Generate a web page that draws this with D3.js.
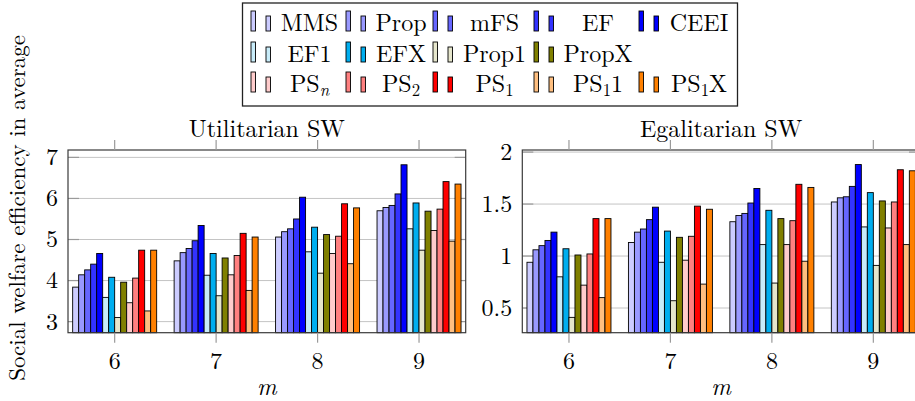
<!DOCTYPE html>
<html>
<head>
<meta charset="utf-8">
<script src="https://cdn.jsdelivr.net/npm/d3@7"></script>
<style>
  body { margin: 0; background: #fff; }
  svg { display: block; }
</style>
</head>
<body>
<svg id="chart"></svg>
<script>
// methods, in the order the bars are drawn inside each group
const methods = ['MMS', 'Prop', 'mFS', 'EF', 'CEEI', 'EF1', 'EFX', 'Prop1', 'PropX',
  'PS_{n}', 'PS_{2}', 'PS_{1}', 'PS_{1}1', 'PS_{1}X'];
const mValues = [6, 7, 8, 9];

// Utilitarian SW, one array per m
const utilM6 = [3.84, 4.14, 4.26, 4.40, 4.66, 3.59, 4.08, 3.10, 3.96, 3.46, 4.06, 4.74, 3.26, 4.74];
const utilM7 = [4.48, 4.68, 4.78, 4.97, 5.34, 4.13, 4.66, 3.63, 4.55, 4.14, 4.61, 5.15, 3.76, 5.06];
const utilM8 = [5.06, 5.19, 5.26, 5.50, 6.03, 4.70, 5.30, 4.18, 5.12, 4.66, 5.08, 5.87, 4.41, 5.77];
const utilM9 = [5.70, 5.78, 5.83, 6.11, 6.82, 5.26, 5.89, 4.74, 5.69, 5.22, 5.74, 6.41, 4.96, 6.35];

// Egalitarian SW, one array per m
const egalM6 = [0.94, 1.06, 1.10, 1.15, 1.23, 0.80, 1.07, 0.41, 1.01, 0.72, 1.02, 1.36, 0.60, 1.36];
const egalM7 = [1.13, 1.23, 1.26, 1.35, 1.47, 0.94, 1.24, 0.57, 1.18, 0.96, 1.19, 1.48, 0.73, 1.45];
const egalM8 = [1.33, 1.39, 1.41, 1.51, 1.65, 1.11, 1.44, 0.74, 1.36, 1.11, 1.34, 1.69, 0.95, 1.66];
const egalM9 = [1.52, 1.56, 1.57, 1.67, 1.88, 1.28, 1.61, 0.91, 1.53, 1.27, 1.52, 1.83, 1.11, 1.82];

const utilTicks = [3, 4, 5, 6, 7];
const egalTicks = [0.5, 1, 1.5, 2];

// bar fills (pgf style colours)
const colors = ['#ccccff', '#9999ff', '#6666ff', '#3333ff', '#0000ff',
  '#c8ecf9', '#00aeef', '#e6e6cc', '#808000',
  '#ffcccc', '#ff8080', '#ff0000', '#ffbf80', '#ff8000'];

const width = 915;
const height = 401;
const plotTop = 150, plotBottom = 332.7;
const barW = 6;
const fontSize = 24;
const font = "'Latin Modern Roman', 'Liberation Serif', serif";

const svg = d3.select('#chart').attr('width', width).attr('height', height);

// every text goes through here so the font is always set
const addText = (parent, str) =>
  parent.append('text').style('font-family', font).attr('font-size', fontSize).text(str);

const panels = [
  { title: 'Utilitarian SW', x0: 68, x1: 465.7, domain: [2.73, 7.18], ticks: utilTicks,
    rows: [utilM6, utilM7, utilM8, utilM9] },
  { title: 'Egalitarian SW', x0: 522.3, x1: 920, domain: [0.2625, 2.02], ticks: egalTicks,
    rows: [egalM6, egalM7, egalM8, egalM9] }
];

// write a label like PS_{1}X with a subscript
function setLabel(sel, label) {
  const parts = label.split(/_\{([^}]*)\}/);
  parts.forEach((p, i) => {
    if (p === '') return;
    if (i % 2 === 1) {
      sel.append('tspan').text(p)
        .attr('font-size', fontSize * 0.7)
        .attr('font-style', p === 'n' ? 'italic' : null)
        .attr('dy', 4);
    } else {
      sel.append('tspan').text(p).attr('dy', i > 0 ? -4 : 0);
    }
  });
}

panels.forEach((p) => {
  const x = d3.scaleLinear().domain([5.54, 9.46]).range([p.x0, p.x1]);
  const y = d3.scaleLinear().domain(p.domain).range([plotBottom, plotTop]);
  const g = svg.append('g');

  //Horizontal grid
  g.selectAll(null).data(p.ticks).enter().append('line')
    .attr('x1', p.x0).attr('x2', p.x1)
    .attr('y1', (d) => y(d)).attr('y2', (d) => y(d))
    .attr('stroke', '#c4c4c4').attr('stroke-width', 1);

  // inside y ticks, both sides
  [[p.x0, p.x0 + 11], [p.x1 - 11, p.x1]].forEach(([a, b]) => {
    g.selectAll(null).data(p.ticks).enter().append('line')
      .attr('x1', a).attr('x2', b)
      .attr('y1', (d) => y(d)).attr('y2', (d) => y(d))
      .attr('stroke', '#9a9a9a').attr('stroke-width', 1.2);
  });

  //Bars
  p.rows.forEach((vals, gi) => {
    const cx = x(mValues[gi]);
    g.selectAll(null).data(vals).enter().append('rect')
      .attr('x', (d, i) => cx + (i - methods.length / 2) * barW)
      .attr('y', (d) => y(d))
      .attr('width', barW)
      .attr('height', (d) => plotBottom - y(d))
      .attr('fill', (d, i) => colors[i])
      .attr('stroke', '#000')
      .attr('stroke-width', 0.9);
  });

  // frame
  g.append('rect')
    .attr('x', p.x0).attr('y', plotTop)
    .attr('width', p.x1 - p.x0).attr('height', plotBottom - plotTop)
    .attr('fill', 'none').attr('stroke', '#3a3a3a').attr('stroke-width', 1.2);

  // x ticks outside, top and bottom
  mValues.forEach((m) => {
    g.append('line').attr('x1', x(m)).attr('x2', x(m))
      .attr('y1', plotTop - 10).attr('y2', plotTop).attr('stroke', '#9a9a9a').attr('stroke-width', 1.2);
    g.append('line').attr('x1', x(m)).attr('x2', x(m))
      .attr('y1', plotBottom).attr('y2', plotBottom + 10).attr('stroke', '#9a9a9a').attr('stroke-width', 1.2);
    addText(g, m).attr('x', x(m)).attr('y', 369).attr('text-anchor', 'middle');
  });

  // y tick labels
  p.ticks.forEach((t) => {
    addText(g, t).attr('x', p.x0 - 10).attr('y', y(t))
      .attr('dy', '0.33em').attr('text-anchor', 'end');
  });

  // title and x label
  addText(g, p.title).attr('x', (p.x0 + p.x1) / 2).attr('y', 137).attr('text-anchor', 'middle');
  addText(g, 'm').attr('x', (p.x0 + p.x1) / 2).attr('y', 395)
    .attr('text-anchor', 'middle').attr('font-style', 'italic');
});

// y axis label
addText(svg, 'Social welfare efficiency in average')
  .attr('transform', 'translate(25,208) rotate(-90)')
  .attr('font-size', 23)
  .attr('text-anchor', 'middle');

//Legend
const legendRows = [[0, 1, 2, 3, 4], [5, 6, 7, 8], [9, 10, 11, 12, 13]];
const glyphX = [251, 346, 433, 534, 639];
const textX = [309.5, 401, 494.5, 598, 699];
const rowBase = [31, 62, 92];

svg.append('rect')
  .attr('x', 242.5).attr('y', 3).attr('width', 495).attr('height', 103)
  .attr('fill', '#fff').attr('stroke', '#222').attr('stroke-width', 1.3);

legendRows.forEach((row, r) => {
  row.forEach((mi, c) => {
    const gx = glyphX[c];
    const base = rowBase[r];
    svg.append('rect').attr('x', gx).attr('y', base - 20).attr('width', 4.5).attr('height', 20)
      .attr('fill', colors[mi]).attr('stroke', '#000').attr('stroke-width', 0.9);
    svg.append('rect').attr('x', gx + 15).attr('y', base - 15).attr('width', 4.5).attr('height', 15)
      .attr('fill', colors[mi]).attr('stroke', '#000').attr('stroke-width', 0.9);
    const t = addText(svg, null).attr('x', textX[c]).attr('y', base).attr('text-anchor', 'middle');
    setLabel(t, methods[mi]);
  });
});
</script>
</body>
</html>
